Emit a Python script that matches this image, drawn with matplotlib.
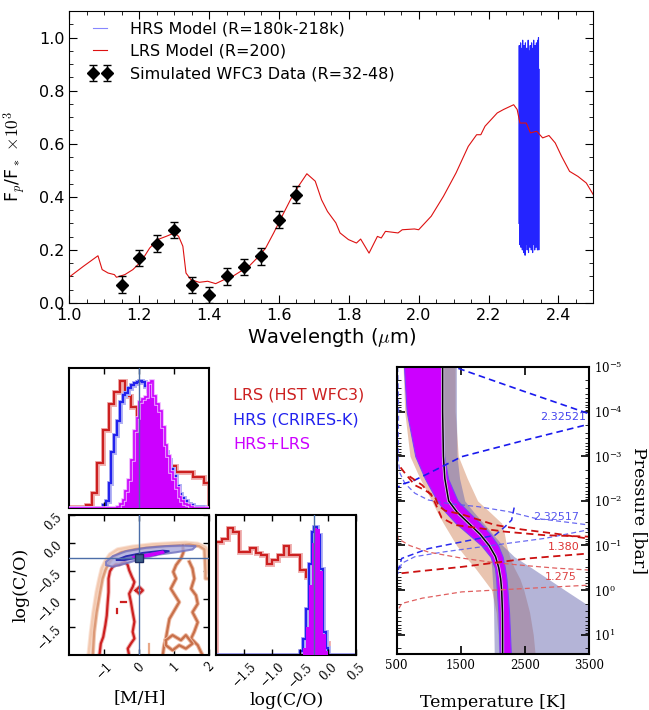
import numpy as np
import matplotlib.pyplot as plt
import matplotlib.patheffects as pe
from matplotlib.ticker import MultipleLocator, FixedLocator, NullFormatter

plt.rcParams['xtick.direction'] = 'in'
plt.rcParams['ytick.direction'] = 'in'
plt.rcParams['xtick.top'] = True
plt.rcParams['ytick.right'] = True
plt.rcParams['mathtext.fontset'] = 'dejavusans'

RED = '#cc2020'
BLUE = '#2222ee'
MAG = '#cc00ff'

# ---- emission spectrum ----
lrs_wave = [1.00, 1.04, 1.082, 1.094, 1.111, 1.129, 1.135, 1.159, 1.182, 1.206, 1.23, 1.253,
            1.277, 1.301, 1.313, 1.325, 1.334, 1.348, 1.372, 1.396, 1.419, 1.443, 1.467, 1.49,
            1.514, 1.538, 1.562, 1.585, 1.609, 1.633, 1.656, 1.68, 1.704, 1.722, 1.739, 1.763,
            1.775, 1.799, 1.822, 1.834, 1.858, 1.882, 1.893, 1.905, 1.941, 1.953, 1.988, 2.0,
            2.036, 2.071, 2.107, 2.142, 2.166, 2.178, 2.19, 2.225, 2.243, 2.272, 2.282, 2.29,
            2.308, 2.32, 2.338, 2.355, 2.373, 2.391, 2.409, 2.432, 2.456, 2.48, 2.5]
lrs_flux = [0.098, 0.138, 0.178, 0.126, 0.113, 0.107, 0.097, 0.107, 0.126, 0.157, 0.207, 0.239,
            0.251, 0.264, 0.251, 0.214, 0.113, 0.088, 0.078, 0.082, 0.073, 0.088, 0.100, 0.119,
            0.138, 0.170, 0.207, 0.264, 0.327, 0.389, 0.440, 0.487, 0.459, 0.389, 0.345, 0.302,
            0.264, 0.239, 0.226, 0.241, 0.188, 0.251, 0.245, 0.270, 0.264, 0.276, 0.279, 0.276,
            0.327, 0.402, 0.490, 0.590, 0.634, 0.634, 0.666, 0.716, 0.729, 0.747, 0.729, 0.678,
            0.678, 0.641, 0.647, 0.622, 0.631, 0.603, 0.553, 0.496, 0.477, 0.452, 0.408]

hrs_wave = np.linspace(2.287, 2.345, 60)
hrs_flux = [0.30, 0.97, 0.22, 0.95, 0.25, 0.98, 0.21, 0.93, 0.35, 0.96,
            0.20, 0.99, 0.24, 0.92, 0.19, 0.97, 0.28, 0.94, 0.18, 0.98,
            0.22, 0.90, 0.26, 0.96, 0.20, 0.93, 0.23, 0.99, 0.19, 0.95,
            0.30, 0.91, 0.21, 0.97, 0.24, 0.94, 0.20, 0.98, 0.27, 0.92,
            0.19, 0.96, 0.22, 0.99, 0.25, 0.93, 0.20, 0.97, 0.23, 0.95,
            0.21, 0.98, 0.26, 0.94, 0.20, 0.99, 0.22, 1.00, 0.20, 0.88]

wfc3_wave = [1.15, 1.20, 1.25, 1.30, 1.35, 1.40, 1.45, 1.50, 1.55, 1.60, 1.65]
wfc3_flux = [0.069, 0.170, 0.224, 0.276, 0.067, 0.031, 0.100, 0.136, 0.176, 0.314, 0.408]
wfc3_err = [0.031, 0.031, 0.031, 0.031, 0.031, 0.031, 0.031, 0.031, 0.031, 0.031, 0.031]

# ---- posterior histograms ----
mh_edges_lrs = np.linspace(-2, 2, 26)
mh_lrs = [0.005, 0.005, 0.005, 0.02, 0.11, 0.32, 0.56, 0.74, 0.83, 0.91, 0.80, 0.72, 0.50,
          0.45, 0.40, 0.36, 0.33, 0.31, 0.30, 0.26, 0.26, 0.26, 0.22, 0.22, 0.18]
mh_edges_hrs = np.linspace(-2, 2, 51)
mh_hrs = [0.003] * 12 + [0.02, 0.05, 0.18, 0.40, 0.52, 0.62, 0.76, 0.81, 0.82, 0.86, 0.88, 0.89,
                         0.90, 0.905, 0.90, 0.87, 0.84, 0.78, 0.70, 0.60, 0.50, 0.42, 0.40, 0.34,
                         0.28, 0.23, 0.16, 0.10, 0.07, 0.05, 0.03, 0.02, 0.01, 0.005, 0.005,
                         0.005, 0.003, 0.003]
mh_both = [0.0] * 17 + [0.01, 0.03, 0.06, 0.12, 0.20, 0.34, 0.55, 0.64, 0.76, 0.78, 0.79, 0.89,
                        0.905, 0.80, 0.74, 0.69, 0.58, 0.45, 0.37, 0.26, 0.21, 0.14, 0.08, 0.05,
                        0.03, 0.02, 0.01, 0.0, 0.0, 0.0, 0.0, 0.0, 0.0]

co_edges_lrs = np.linspace(-2, 0.5, 26)
co_lrs = [0.81, 0.83, 0.91, 0.88, 0.74, 0.74, 0.77, 0.73, 0.72, 0.65, 0.68, 0.72, 0.78,
          0.72, 0.72, 0.61, 0.56, 0.50, 0.30, 0.09, 0.0, 0.0, 0.0, 0.0, 0.0]
co_edges_hrs = np.linspace(-2, 0.5, 51)
co_hrs = [0.0] * 30 + [0.03, 0.12, 0.33, 0.65, 0.88, 0.92, 0.86, 0.62, 0.17, 0.05] + [0.0] * 10
co_both = [0.0] * 30 + [0.0, 0.05, 0.20, 0.50, 0.80, 0.91, 0.90, 0.60, 0.15, 0.03] + [0.0] * 10

mh_true = 0.0
co_true = -0.26

# ---- 2D credible contours, [M/H] vs log(C/O) ----
lrs_outer_mh = [-1.45, -1.38, -1.31, -1.22, -1.14, -1.07, -0.97, -0.84, -0.62, -0.19, 0.38, 0.95,
                1.33, 1.67, 1.89, 1.95, 1.95, 2.1]
lrs_outer_co = [-2.0, -1.58, -1.23, -0.87, -0.63, -0.45, -0.32, -0.20, -0.11, -0.06, -0.02, 0.0,
                0.01, -0.01, -0.07, -0.16, -0.51, -0.6]
lrs_mid_mh = [-1.33, -1.29, -1.22, -1.12, -1.05, -0.97, -0.88, -0.74, -0.52, -0.10, 0.48, 1.05,
              1.43, 1.71, 1.86, 1.89, 1.89, 2.1]
lrs_mid_co = [-2.0, -1.58, -1.23, -0.87, -0.63, -0.48, -0.36, -0.24, -0.16, -0.10, -0.06, -0.04,
              -0.02, -0.05, -0.11, -0.51, -0.63, -0.63]
lrs_inner_mh = [-1.14, -1.10, -1.03, -0.97, -0.93, -0.91, -0.88, -0.88, -0.84, -0.76, -0.67, -0.57,
                -0.48, -0.40, -0.33, -0.29, -0.21, -0.14, -0.19, -0.29, -0.24, -0.19, -0.14, -0.19,
                -0.14, -0.24, -0.33, -0.29]
lrs_inner_co = [-2.0, -1.79, -1.67, -1.46, -1.29, -1.11, -0.87, -0.63, -0.50, -0.42, -0.38, -0.38,
                -0.35, -0.33, -0.39, -0.48, -0.60, -0.69, -0.78, -0.90, -1.05, -1.23, -1.40, -1.58,
                -1.70, -1.79, -1.88, -2.0]
lrs_island_mh = [-0.10, 0.0, 0.10, 0.0, -0.10]
lrs_island_co = [-0.84, -0.78, -0.84, -0.90, -0.84]
lrs_right_a_mh = [1.24, 1.26, 1.19, 1.05, 0.97, 1.05, 0.90, 1.05, 1.14, 1.0, 0.86, 0.81, 0.76, 0.71, 0.67]
lrs_right_a_co = [-0.04, -0.16, -0.27, -0.39, -0.51, -0.63, -0.81, -0.96, -1.05, -1.20, -1.35,
                  -1.52, -1.70, -1.82, -2.0]
lrs_right_b_mh = [1.43, 1.52, 1.57, 1.48, 1.62, 1.67, 1.52, 1.67, 1.57, 1.48, 1.67, 1.76, 1.81]
lrs_right_b_co = [-0.33, -0.45, -0.63, -0.81, -0.93, -1.08, -1.23, -1.41, -1.58, -1.70, -1.82,
                  -1.94, -2.0]
lrs_loop_mh = [0.76, 0.95, 1.19, 1.33, 1.52, 1.33, 1.14, 0.95, 0.76, 0.76]
lrs_loop_co = [-1.73, -1.64, -1.73, -1.64, -1.79, -1.88, -1.82, -1.91, -1.82, -1.73]

hrs_outer_mh = [-0.95, -0.76, -0.38, 0.19, 0.76, 1.24, 1.62, 1.52, 1.05, 0.57, 0.10, -0.38, -0.76, -0.95]
hrs_outer_co = [-0.33, -0.23, -0.14, -0.08, -0.05, -0.04, -0.05, -0.11, -0.16, -0.20, -0.27,
                -0.36, -0.42, -0.39]
hrs_inner_mh = [-0.67, -0.38, 0.10, 0.67, 0.86, 0.48, 0.0, -0.43]
hrs_inner_co = [-0.30, -0.23, -0.17, -0.13, -0.14, -0.20, -0.25, -0.30]
both_mh = [-0.19, 0.19, 0.67, 0.71, 0.29, -0.14]
both_co = [-0.24, -0.20, -0.14, -0.17, -0.23, -0.27]

# ---- temperature-pressure profiles ----
tp_logp = [-5, -4, -3, -2.5, -2, -1.75, -1.5, -1.25, -1, -0.75, -0.5, -0.25, 0, 0.5, 1, 1.5]
lrs_t_lo = [600, 625, 707, 863, 1045, 1130, 1226, 1330, 1434, 1570, 1719, 1850, 1979, 2050, 2080, 2090]
lrs_t_hi = [1410, 1410, 1460, 1600, 1760, 1950, 2135, 2180, 2210, 2260, 2330, 2420, 2480, 2570, 2627, 2660]
hrs_t_lo = [1200, 1200, 1210, 1230, 1280, 1380, 1500, 1700, 1900, 1960, 1980, 1990, 2000, 2010, 2015, 2020]
hrs_t_hi = [1430, 1430, 1440, 1480, 1560, 1700, 1850, 2000, 2150, 2330, 2600, 2860, 3120, 3650, 3700, 3700]
both_t_lo = [614, 656, 790, 940, 1130, 1260, 1420, 1620, 1820, 1960, 2030, 2050, 2060, 2085, 2095, 2105]
both_t_hi = [1205, 1210, 1240, 1300, 1450, 1620, 1800, 1960, 2080, 2150, 2185, 2210, 2225, 2250, 2265, 2280]
true_t = [1216, 1216, 1228, 1250, 1310, 1440, 1620, 1800, 1940, 2040, 2090, 2120, 2135, 2148, 2150, 2150]

# contribution functions, drawn in temperature units
cf_a_t = [1300, 2450, 3500, 3800, 3500, 2498, 1512, 1045, 760, 600, 510]
cf_a_logp = [-5.05, -4.47, -3.95, -3.85, -3.72, -3.36, -2.99, -2.65, -2.45, -2.38, -2.3]
cf_b_t = [2330, 2290, 2186, 2031, 1512, 992, 578, 525]
cf_b_logp = [-1.85, -1.57, -1.42, -1.23, -1.08, -0.93, -0.71, -0.45]
cf_c_t = [515, 525, 530, 525, 525, 551, 629, 785, 992, 1303, 1770, 2238, 2653, 3276, 3700,
          3483, 2809, 2031, 1252, 785, 578, 525]
cf_c_logp = [-5.0, -4.5, -4.0, -3.4, -2.91, -2.62, -2.39, -2.17, -2.02, -1.94, -1.87, -1.76,
             -1.61, -1.50, -1.42, -1.35, -1.16, -1.01, -0.86, -0.75, -0.60, -0.37]
cf_d_t = [560, 629, 785, 941, 1096, 1148, 1252, 1512, 2031, 2446, 3000, 3500, 3800, 3483, 2549,
          1512, 900, 525]
cf_d_logp = [-2.75, -2.62, -2.35, -2.24, -2.09, -1.90, -1.78, -1.70, -1.46, -1.36, -1.26, -1.15,
             -1.05, -0.82, -0.71, -0.52, -0.43, -0.37]
cf_d2_t = [700, 900, 1045, 1100, 1200, 1408, 2186, 2809, 3458, 3700]
cf_d2_logp = [-2.55, -2.35, -2.12, -1.95, -1.62, -1.46, -1.31, -1.23, -1.20, -1.18]
cf_e_t = [510, 525, 700, 1000, 1500, 2000, 2500, 3000, 3499, 3800, 3483, 2549, 1512, 900, 578, 520]
cf_e_logp = [-1.25, -1.15, -1.0, -0.85, -0.72, -0.62, -0.55, -0.49, -0.45, -0.3, -0.11, -0.04,
             0.04, 0.18, 0.30, 0.45]

fig = plt.figure(figsize=(6.49, 7.10), dpi=100)

# ================= spectrum =================
ax = fig.add_axes([0.1068, 0.5732, 0.8074, 0.4113])
ax.plot(hrs_wave, hrs_flux, color='#2424ff', lw=0.8, label='HRS Model (R=180k-218k)')
ax.plot(lrs_wave, lrs_flux, color='#dd1111', lw=0.8, label='LRS Model (R=200)')
ax.errorbar(wfc3_wave, wfc3_flux, yerr=wfc3_err, fmt='D', color='k', ms=6.5, capsize=3,
            elinewidth=1, capthick=1, label='Simulated WFC3 Data (R=32-48)')
ax.set_xlim(1.0, 2.5)
ax.set_ylim(0, 1.1)
ax.xaxis.set_major_locator(MultipleLocator(0.2))
ax.xaxis.set_minor_locator(MultipleLocator(0.05))
ax.yaxis.set_major_locator(MultipleLocator(0.2))
ax.yaxis.set_minor_locator(MultipleLocator(0.05))
ax.tick_params(which='major', length=6, labelsize=11.5)
ax.tick_params(which='minor', length=3)
ax.set_xlabel(r'Wavelength ($\mu$m)', fontsize=14, labelpad=2, math_fontfamily='cm')
ax.set_ylabel(r'F$_p$/F$_*$ $\times 10^3$', fontsize=12.5, math_fontfamily='cm')
ax.yaxis.set_label_coords(-0.079, 0.5)
leg = ax.legend(loc='upper left', bbox_to_anchor=(0.0235, 0.985), borderaxespad=0, frameon=False,
                fontsize=11.5, numpoints=2, handlelength=1.5, handletextpad=1.1, labelspacing=0.45)
leg.get_lines()[0].set_alpha(0.55)

# ================= posteriors =================
serif = 'DejaVu Serif'


def halo(color, width=3.6):
    return [pe.Stroke(linewidth=width, foreground=color), pe.Normal()]


def corner_ticks(a):
    a.tick_params(which='both', length=4, width=1, labelsize=8.5)
    for lab in a.get_xticklabels() + a.get_yticklabels():
        lab.set_rotation(45)
        lab.set_fontfamily(serif)
    for s in a.spines.values():
        s.set_linewidth(1.5)


ax_mh = fig.add_axes([0.1068, 0.2845, 0.2157, 0.1972])
ax_mh.stairs(mh_lrs, mh_edges_lrs, color=RED, lw=1.6, path_effects=halo('#f0b4b4'))
ax_mh.stairs(mh_hrs, mh_edges_hrs, color=BLUE, lw=1.6, path_effects=halo('#b4b4f4'))
ax_mh.stairs(mh_both, mh_edges_hrs, fill=True, color=MAG, zorder=3)
ax_mh.stairs(mh_both, mh_edges_hrs, color=MAG, lw=1.2, zorder=3, path_effects=halo('#eeb0ff', 2.6))
ax_mh.axvline(mh_true, color='#4c6ea8', lw=1, zorder=4)
ax_mh.set_xlim(-2, 2)
ax_mh.set_ylim(0, 1.0)
ax_mh.xaxis.set_major_locator(FixedLocator([-1, 0, 1]))
ax_mh.set_yticks([])
ax_mh.xaxis.set_major_formatter(NullFormatter())
corner_ticks(ax_mh)

ax_2d = fig.add_axes([0.1068, 0.0770, 0.2157, 0.1972])
ax_2d.plot(lrs_outer_mh, lrs_outer_co, color='#f3c9b0', lw=1.8, path_effects=halo('#fae4d8', 3.2))
ax_2d.plot(lrs_mid_mh, lrs_mid_co, color='#dc9a78', lw=1.6, path_effects=halo('#f2cdb8', 3.0))
ax_2d.plot(lrs_inner_mh, lrs_inner_co, color=RED, lw=1.6, path_effects=halo('#f0b4b4', 3.0))
ax_2d.plot(lrs_island_mh, lrs_island_co, color=RED, lw=1.6, path_effects=halo('#f0b4b4', 3.0))
ax_2d.plot([-0.52, -0.38], [-1.04, -1.04], color=RED, lw=1.6)
ax_2d.plot([-0.64, -0.64], [-1.17, -1.24], color=RED, lw=1.6)
for cx, cy in [(lrs_right_a_mh, lrs_right_a_co), (lrs_right_b_mh, lrs_right_b_co),
               (lrs_loop_mh, lrs_loop_co)]:
    ax_2d.plot(cx, cy, color='#c8704a', lw=1.6, path_effects=halo('#eebca6', 3.0))
ax_2d.plot([0.29, 0.29], [-1.79, -2.0], color='#e8a888', lw=1.6)
ax_2d.fill(hrs_outer_mh, hrs_outer_co, facecolor='#a8a8dc', edgecolor='#7070c0', lw=1.5, alpha=0.8, zorder=3)
ax_2d.fill(hrs_inner_mh, hrs_inner_co, facecolor='#7878c8', edgecolor='#2a2ab0', lw=1.3, zorder=3)
ax_2d.fill(both_mh, both_co, facecolor=MAG, edgecolor=MAG, lw=1, zorder=3)
ax_2d.axvline(mh_true, color='#4c6ea8', lw=1, zorder=4)
ax_2d.axhline(co_true, color='#4c6ea8', lw=1, zorder=4)
ax_2d.plot([mh_true], [co_true], 's', ms=6, mfc='#3c5f88', mec='#1a2a60', zorder=5)
ax_2d.set_xlim(-2, 2)
ax_2d.set_ylim(-2, 0.5)
ax_2d.xaxis.set_major_locator(FixedLocator([-1, 0, 1, 2]))
ax_2d.yaxis.set_major_locator(FixedLocator([0.5, 0.0, -0.5, -1.0, -1.5]))
ax_2d.set_yticklabels(['0.5', '0.0', '\u22120.5', '\u22121.0', '\u22121.5'])
corner_ticks(ax_2d)
ax_2d.set_xlabel('[M/H]', fontfamily=serif, fontsize=12.5, labelpad=6)
ax_2d.set_ylabel('log(C/O)', fontfamily=serif, fontsize=12.5, labelpad=4)

ax_co = fig.add_axes([0.3333, 0.0770, 0.2157, 0.1972])
ax_co.stairs(co_lrs, co_edges_lrs, color=RED, lw=1.6, path_effects=halo('#f0b4b4'))
ax_co.stairs(co_hrs, co_edges_hrs, color=BLUE, lw=1.6, path_effects=halo('#b4b4f4'))
ax_co.stairs(co_both, co_edges_hrs, fill=True, color=MAG, zorder=3)
ax_co.axvline(co_true, color='#4c6ea8', lw=1, zorder=4)
ax_co.set_xlim(-2, 0.5)
ax_co.set_ylim(0, 1.0)
ax_co.set_yticks([])
ax_co.xaxis.set_major_locator(FixedLocator([-1.5, -1.0, -0.5, 0.0, 0.5]))
ax_co.set_xticklabels(['\u22121.5', '\u22121.0', '\u22120.5', '0.0', '0.5'])
corner_ticks(ax_co)
ax_co.set_xlabel('log(C/O)', fontfamily=serif, fontsize=12.5, labelpad=2)

fig.text(0.359, 1 - 395 / 710, 'LRS (HST WFC3)', color=RED, fontsize=11.5, va='center')
fig.text(0.359, 1 - 420 / 710, 'HRS (CRIRES-K)', color=BLUE, fontsize=11.5, va='center')
fig.text(0.359, 1 - 444 / 710, 'HRS+LRS', color=MAG, fontsize=11.5, va='center')

# ================= T-P profile =================
tp = fig.add_axes([0.6112, 0.0789, 0.2968, 0.4042])
P = 10.0 ** np.array(tp_logp)
tp.fill_betweenx(P, lrs_t_lo, lrs_t_hi, color='#dca080', alpha=0.62, lw=0)
tp.fill_betweenx(P, hrs_t_lo, hrs_t_hi, color='#6a6ab0', alpha=0.5, lw=0)
tp.fill_betweenx(P, both_t_lo, both_t_hi, facecolor=MAG, edgecolor='#7a40ff', lw=0.8)
tp.plot(true_t, P, color='k', lw=1.1,
        path_effects=[pe.Stroke(linewidth=2.2, foreground='#d8d0e8'), pe.Normal()])

dash = (4, 2.5)
tp.plot(cf_c_t, 10.0 ** np.array(cf_c_logp), color='#5a5af0', lw=0.9, dashes=dash, alpha=0.9)
tp.plot(cf_a_t, 10.0 ** np.array(cf_a_logp), color='#1a1aee', lw=1.2, dashes=dash)
tp.plot(cf_b_t, 10.0 ** np.array(cf_b_logp), color='#2a2aee', lw=1.1, dashes=dash)
tp.plot(cf_e_t, 10.0 ** np.array(cf_e_logp), color='#e06060', lw=0.9, dashes=dash)
tp.plot(cf_d_t, 10.0 ** np.array(cf_d_logp), color='#cc1111', lw=1.3, dashes=dash)
tp.plot(cf_d2_t, 10.0 ** np.array(cf_d2_logp), color='#cc1111', lw=1.3, dashes=dash)
tp.text(3085, 10 ** -3.89, '2.32521', color='#4444ee', fontsize=8, ha='center', va='center')
tp.text(2990, 10 ** -1.64, '2.32517', color='#5555ee', fontsize=8, ha='center', va='center')
tp.text(3100, 10 ** -0.97, '1.380', color='#dd3333', fontsize=8, ha='center', va='center')
tp.text(3050, 10 ** -0.30, '1.275', color='#dd4444', fontsize=8, ha='center', va='center')

tp.set_yscale('log')
tp.set_xlim(500, 3500)
tp.set_ylim(27, 1e-5)
tp.xaxis.set_major_locator(FixedLocator([500, 1500, 2500, 3500]))
tp.tick_params(which='both', left=True, right=True, labelleft=False, labelright=True)
tp.tick_params(which='major', length=6, width=1.2, labelsize=8.5)
tp.tick_params(which='minor', length=3)
for lab in tp.get_xticklabels() + tp.get_yticklabels():
    lab.set_fontfamily(serif)
for s in tp.spines.values():
    s.set_linewidth(1.5)
tp.set_xlabel('Temperature [K]', fontfamily=serif, fontsize=12.5, labelpad=16)
tp.yaxis.set_label_position('right')
tp.set_ylabel('Pressure [bar]', fontfamily=serif, fontsize=12.5, rotation=270, labelpad=18)

fig.savefig('out.png', dpi=100)
